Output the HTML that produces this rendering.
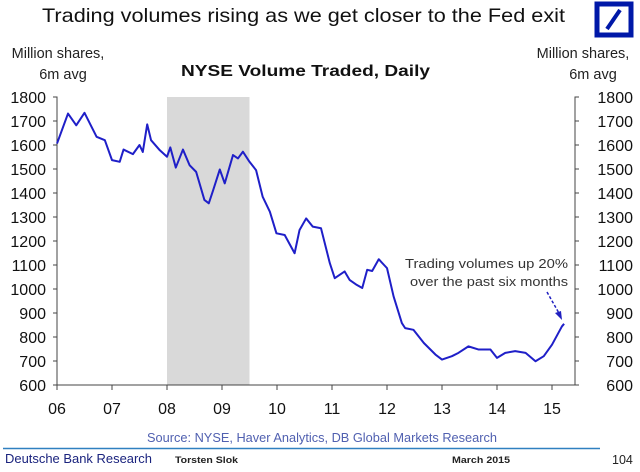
<!DOCTYPE html>
<html><head><meta charset="utf-8"><style>
body{margin:0;background:#fff;width:640px;height:467px;overflow:hidden;font-family:"Liberation Sans",Arial,sans-serif}
</style></head><body>
<svg id="c" width="640" height="467" xmlns="http://www.w3.org/2000/svg" font-family="Liberation Sans, Arial, sans-serif">
<text x="42" y="22" font-size="19.5" textLength="523" lengthAdjust="spacingAndGlyphs" fill="#111">Trading volumes rising as we get closer to the Fed exit</text>
<g><rect x="597" y="4" width="34" height="31" fill="none" stroke="#0018a8" stroke-width="5"/><line x1="607" y1="29" x2="620" y2="10" stroke="#0018a8" stroke-width="4"/></g>
<text x="58" y="58" font-size="14.5" text-anchor="middle" fill="#222"><tspan x="58">Million shares,</tspan><tspan x="63" dy="21">6m avg</tspan></text>
<text x="583" y="58" font-size="14.5" text-anchor="middle" fill="#222"><tspan x="583">Million shares,</tspan><tspan x="593" dy="21">6m avg</tspan></text>
<text x="181" y="76" font-size="16" font-weight="bold" textLength="249" lengthAdjust="spacingAndGlyphs" fill="#111">NYSE Volume Traded, Daily</text>
<g id="plot"></g>
<text font-size="13" fill="#333"><tspan x="405" y="268" textLength="163" lengthAdjust="spacingAndGlyphs">Trading volumes up 20%</tspan><tspan x="410" y="286" textLength="158" lengthAdjust="spacingAndGlyphs">over the past six months</tspan></text>
<line x1="547" y1="292" x2="560" y2="315" stroke="#2020c0" stroke-width="1.5" stroke-dasharray="3,2"/>
<polygon points="562,320 555,313 561,311" fill="#2020c0"/>
<text x="147" y="442" font-size="13" textLength="350" lengthAdjust="spacingAndGlyphs" fill="#5060b0">Source: NYSE, Haver Analytics, DB Global Markets Research</text>
<line x1="3" y1="448.5" x2="600" y2="448.5" stroke="#3080c0" stroke-width="1.5"/>
<text x="5" y="463" font-size="13" textLength="147" lengthAdjust="spacingAndGlyphs" fill="#1a237e">Deutsche Bank Research</text>
<text x="175" y="463" font-size="9" textLength="63" lengthAdjust="spacingAndGlyphs" font-weight="bold" fill="#222">Torsten Slok</text>
<text x="452" y="463" font-size="9" textLength="58" lengthAdjust="spacingAndGlyphs" font-weight="bold" fill="#222">March  2015</text>
<text x="612" y="464" font-size="12.5" fill="#222">104</text>
</svg>
<script>
const yTicks=[600,700,800,900,1000,1100,1200,1300,1400,1500,1600,1700,1800];
const xLabels=["06","07","08","09","10","11","12","13","14","15"];
const xYears=[6,7,8,9,10,11,12,13,14,15];
const shade=[8,9.5];
const dates=[6.0,6.2,6.35,6.5,6.72,6.87,7.0,7.14,7.21,7.38,7.5,7.56,7.64,7.71,7.87,8.0,8.06,8.16,8.29,8.41,8.53,8.68,8.76,8.84,8.96,9.05,9.2,9.29,9.38,9.5,9.62,9.74,9.87,9.99,10.14,10.32,10.41,10.53,10.65,10.8,10.96,11.05,11.23,11.32,11.45,11.55,11.64,11.73,11.85,12.0,12.12,12.27,12.33,12.48,12.67,12.88,13.0,13.18,13.3,13.48,13.66,13.88,14.0,14.15,14.33,14.52,14.7,14.85,15.0,15.18,15.22];
const volumes=[1606,1731,1682,1734,1634,1620,1537,1530,1581,1562,1600,1571,1686,1620,1578,1551,1590,1506,1581,1516,1488,1371,1357,1412,1498,1440,1558,1544,1572,1530,1495,1384,1322,1232,1225,1149,1246,1294,1260,1253,1108,1045,1073,1038,1017,1004,1080,1075,1124,1087,969,858,837,830,775,727,706,720,734,761,748,748,713,734,741,734,699,720,768,844,855];
const NS="http://www.w3.org/2000/svg";
const X0=57,X1=575,Y0=385,Y1=97;
const xs=t=>X0+(t-6)*55;
const ys=v=>Y0-(v-600)/1200*(Y0-Y1);
const g=document.getElementById('plot');
function mk(tag,attrs){const e=document.createElementNS(NS,tag);for(const k in attrs)e.setAttribute(k,attrs[k]);g.appendChild(e);return e;}
const r=mk('rect',{x:xs(shade[0]),y:Y1,width:xs(shade[1])-xs(shade[0]),height:Y0-Y1,fill:'#d9d9d9'});


const la=mk('path',{d:`M${X0-4},${Y1}H${X0}V${Y0}H${X1}`,stroke:'#444',fill:'none','stroke-width':1});


const ra=mk('path',{d:`M${X1},${Y0}V${Y1}H${X1+4}`,stroke:'#444',fill:'none','stroke-width':1});


yTicks.forEach(v=>{
 const y=ys(v);
 mk('line',{x1:X0-4,y1:y,x2:X0,y2:y,stroke:'#444'});
 mk('line',{x1:X1,y1:y,x2:X1+4,y2:y,stroke:'#444'});
 const t=mk('text',{x:X0-11,y:y+6,'font-size':16,'text-anchor':'end',fill:'#111'});t.textContent=v;
 
 
 const t2=mk('text',{x:X1+58,y:y+6,'font-size':16,'text-anchor':'end',fill:'#111'});t2.textContent=v;
 
 
});
xYears.forEach((yr,i)=>{
 const x=xs(yr);
 mk('line',{x1:x,y1:Y0,x2:x,y2:Y0+5,stroke:'#444'});
 const t=mk('text',{x:x,y:Y0+29,'font-size':16,'text-anchor':'middle',fill:'#111'});t.textContent=xLabels[i];
 
 
});
const p=mk('polyline',{points:dates.map((d,i)=>xs(d)+','+ys(volumes[i])).join(' '),fill:'none',stroke:'#1f1fc8','stroke-width':2,'stroke-linejoin':'round'});


</script>
</body></html>
